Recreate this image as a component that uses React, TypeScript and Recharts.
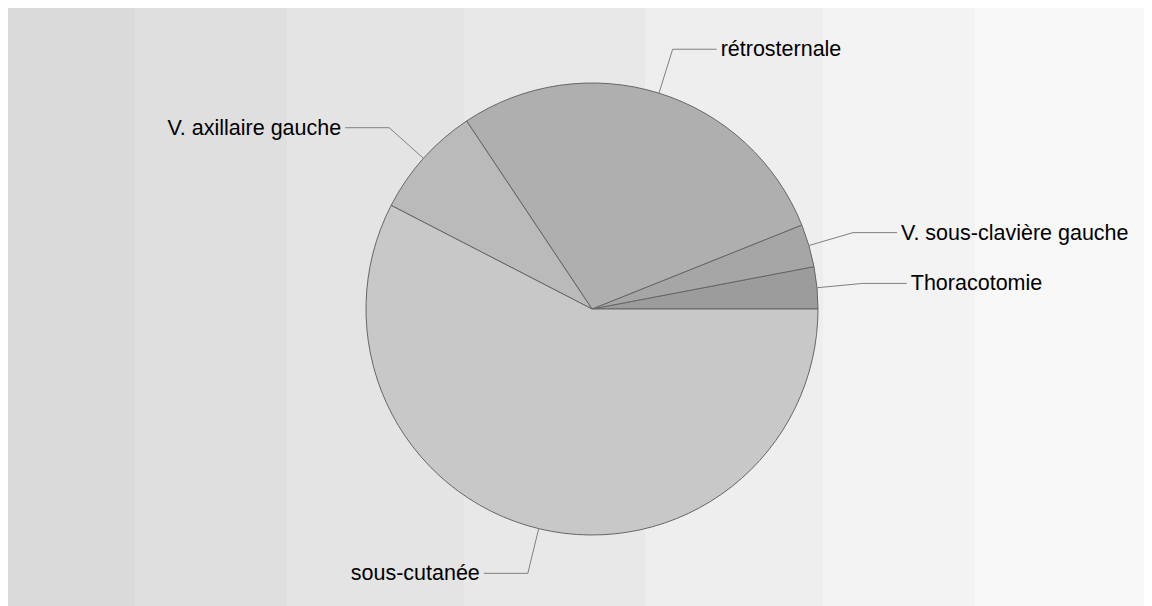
import React from "react";
import { PieChart, Pie, Cell } from "recharts";

const categories = [
  "Thoracotomie",
  "V. sous-clavière gauche",
  "rétrosternale",
  "V. axillaire gauche",
  "sous-cutanée",
];
const values = [3.0, 3.06, 28.3, 8.06, 57.58];
const sliceColors = ["#9c9c9c", "#a6a6a6", "#afafaf", "#bababa", "#c8c8c8"];

const data = categories.map((name, i) => ({ name, value: values[i] }));

const RADIAN = Math.PI / 180;

const renderLabel = (props: any) => {
  const { cx, cy, midAngle, outerRadius, name } = props;
  const cos = Math.cos(-midAngle * RADIAN);
  const sin = Math.sin(-midAngle * RADIAN);
  const sx = cx + outerRadius * cos;
  const sy = cy + outerRadius * sin;
  const ex = cx + (outerRadius + 46) * cos;
  const ey = cy + (outerRadius + 46) * sin;
  const right = cos >= 0;
  const hx = ex + (right ? 44 : -44);
  const tx = hx + (right ? 4 : -4);
  return (
    <g>
      <polyline
        points={`${sx},${sy} ${ex},${ey} ${hx},${ey}`}
        fill="none"
        stroke="#808080"
        strokeWidth={1}
      />
      <text
        x={tx}
        y={ey}
        textAnchor={right ? "start" : "end"}
        dominantBaseline="central"
        fill="#000"
        fontSize={21.5}
        fontFamily="'Liberation Sans', Arial, sans-serif"
      >
        {name}
      </text>
    </g>
  );
};

export default function App() {
  return (
    <div
      style={{
        width: 1136,
        height: 600,
        marginTop: -2,
        background:
          "linear-gradient(to right, #dadada 0px, #dadada 127px, #dfdfdf 127px, #dfdfdf 279px, #e4e4e4 279px, #e4e4e4 456px, #e8e8e8 456px, #e8e8e8 637px, #eeeeee 637px, #eeeeee 815px, #f3f3f3 815px, #f3f3f3 967px, #f8f8f8 967px, #f8f8f8 1136px)",
      }}
    >
      <PieChart width={1136} height={600} margin={{ top: 0, right: 0, bottom: 0, left: 0 }}>
        <Pie
          data={data}
          dataKey="value"
          nameKey="name"
          cx={584}
          cy={303}
          outerRadius={226}
          startAngle={0}
          endAngle={360}
          stroke="#666666"
          strokeWidth={1}
          label={renderLabel}
          labelLine={false}
          isAnimationActive={false}
        >
          {data.map((d, i) => (
            <Cell key={d.name} fill={sliceColors[i]} />
          ))}
        </Pie>
      </PieChart>
    </div>
  );
}
